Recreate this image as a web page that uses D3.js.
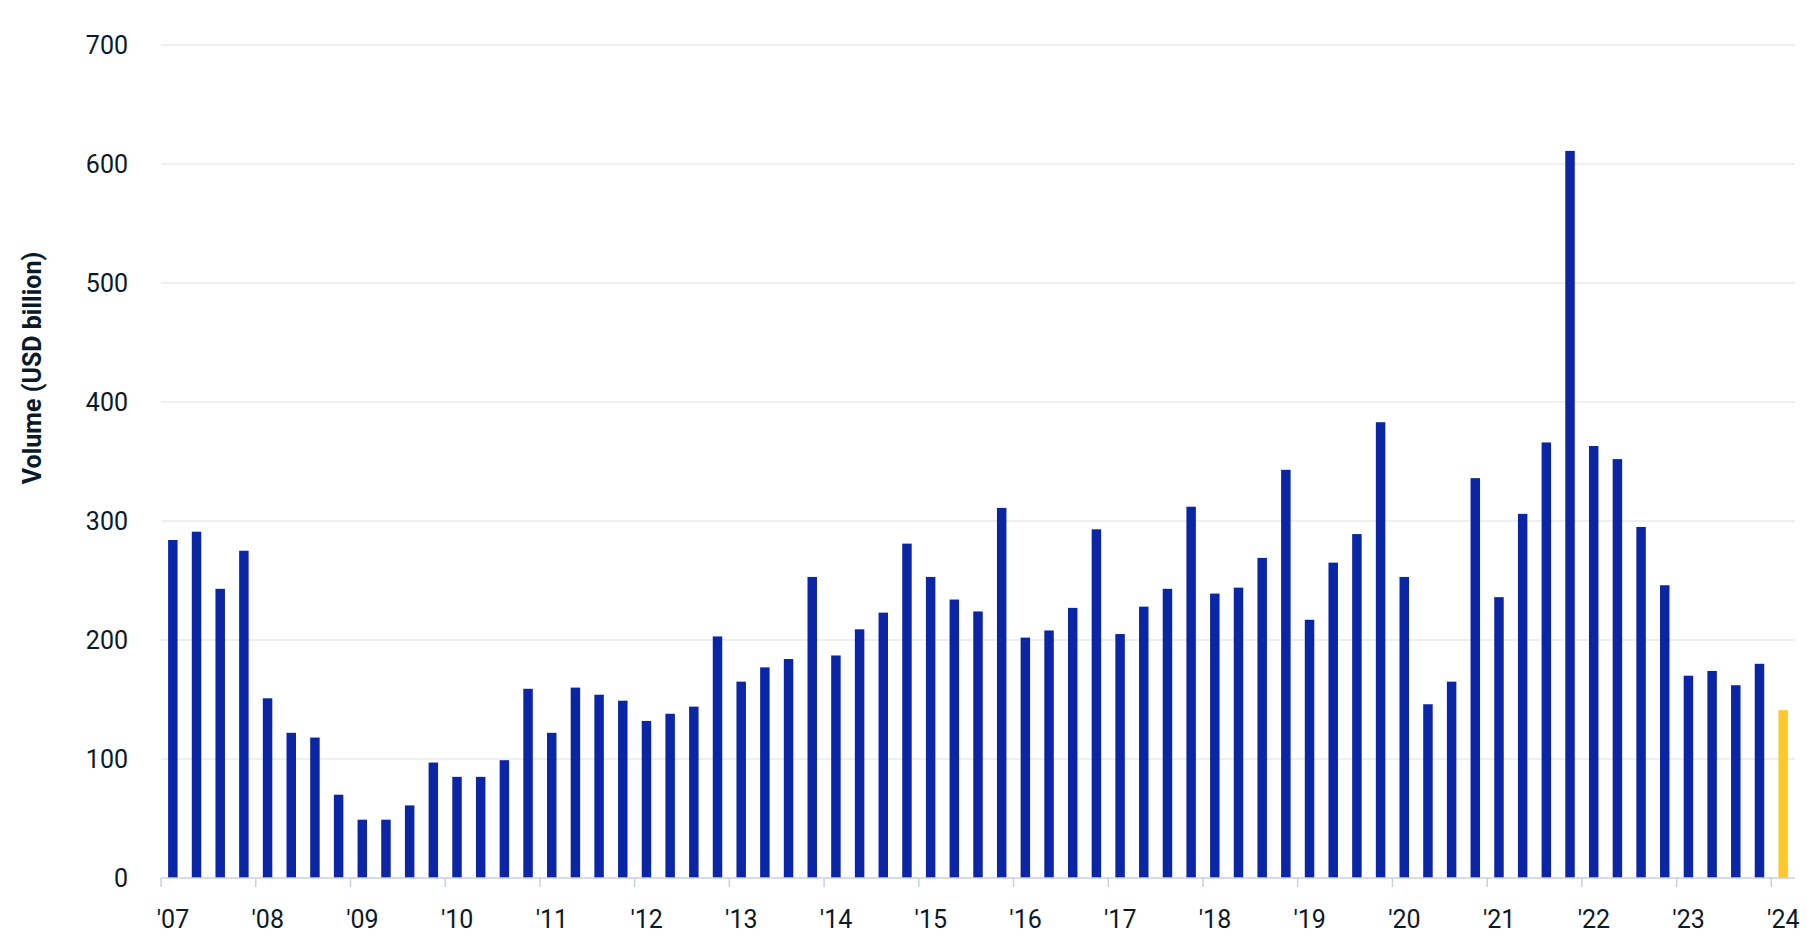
<!DOCTYPE html>
<html>
<head>
<meta charset="utf-8">
<script src="https://cdn.jsdelivr.net/npm/d3@7"></script>
<style>
  body { margin: 0; background: #fff; }
  text { font-family: Roboto, sans-serif; fill: #0b1a2a; }
</style>
</head>
<body>
<svg id="chart" width="1814" height="938"></svg>
<script>
var volumes = [
  284, 291, 243, 275,  151, 122, 118, 70,   49, 49, 61, 97,    85, 85, 99, 159,
  122, 160, 154, 149,  132, 138, 144, 203,  165, 177, 184, 253, 187, 209, 223, 281,
  253, 234, 224, 311,  202, 208, 227, 293,  205, 228, 243, 312, 239, 244, 269, 343,
  217, 265, 289, 383,  253, 146, 165, 336,  236, 306, 366, 611, 363, 352, 295, 246,
  170, 174, 162, 180,  141
];
var years = d3.range(2007, 2025);
var yearLabels = years.map(function(y){ return "'" + String(y).slice(2); });
var yTicks = [0, 100, 200, 300, 400, 500, 600, 700];

var quarters = volumes.map(function(v, i){
  return { key: i, year: 2007 + Math.floor(i / 4), q: i % 4 + 1, value: v };
});

var svg = d3.select('#chart');
var plotLeft = 161, plotRight = 1795, plotTop = 45, plotBottom = 878;

var x = d3.scaleBand().domain(quarters.map(function(d){ return d.key; }))
  .range([plotLeft, plotRight]).paddingInner(0.6).paddingOuter(0.3);
var y = d3.scaleLinear().domain([0, 700]).range([plotBottom, plotTop]);
var yearX = function(i){ return plotLeft + i * 4 * (plotRight - plotLeft) / quarters.length; };

/* Gridlines */
svg.append('g').selectAll('line').data(yTicks.slice(1)).enter().append('line')
  .attr('x1', plotLeft).attr('x2', plotRight)
  .attr('y1', function(d){ return y(d); }).attr('y2', function(d){ return y(d); })
  .style('stroke', '#e1e1e1').style('stroke-width', 1);

/* Y labels */
svg.append('g').selectAll('text').data(yTicks).enter().append('text')
  .attr('x', 128).attr('y', function(d){ return y(d); }).attr('dy', '0.35em')
  .style('text-anchor', 'end').style('font-size', '25px')
  .text(function(d){ return d; });

/* Bars */
svg.append('g').selectAll('rect').data(quarters).enter().append('rect')
  .attr('x', function(d){ return x(d.key); })
  .attr('width', x.bandwidth())
  .attr('y', function(d){ return y(d.value); })
  .attr('height', function(d){ return y(0) - y(d.value); })
  .style('fill', function(d, i){ return i === quarters.length - 1 ? '#FFC72C' : '#0A25A6'; });

/* X axis */
svg.append('line').attr('x1', plotLeft).attr('x2', plotRight).attr('y1', plotBottom).attr('y2', plotBottom)
  .style('stroke', '#c9d0e3').style('stroke-width', 1.5);
svg.append('g').selectAll('line').data(years).enter().append('line')
  .attr('x1', function(d, i){ return yearX(i); })
  .attr('x2', function(d, i){ return yearX(i); })
  .attr('y1', plotBottom).attr('y2', plotBottom + 9)
  .style('stroke', '#c9d0e3').style('stroke-width', 1.5);
svg.append('g').selectAll('text').data(yearLabels).enter().append('text')
  .attr('x', function(d, i){ return yearX(i) + 12; })
  .attr('y', 928).style('text-anchor', 'middle').style('font-size', '25px')
  .text(function(d){ return d; });

/* Y title */
svg.append('text').attr('transform', 'translate(41,368) rotate(-90)')
  .style('text-anchor', 'middle').style('font-size', '25px').style('font-weight', 'bold')
  .text('Volume (USD billion)');
</script>
</body>
</html>
